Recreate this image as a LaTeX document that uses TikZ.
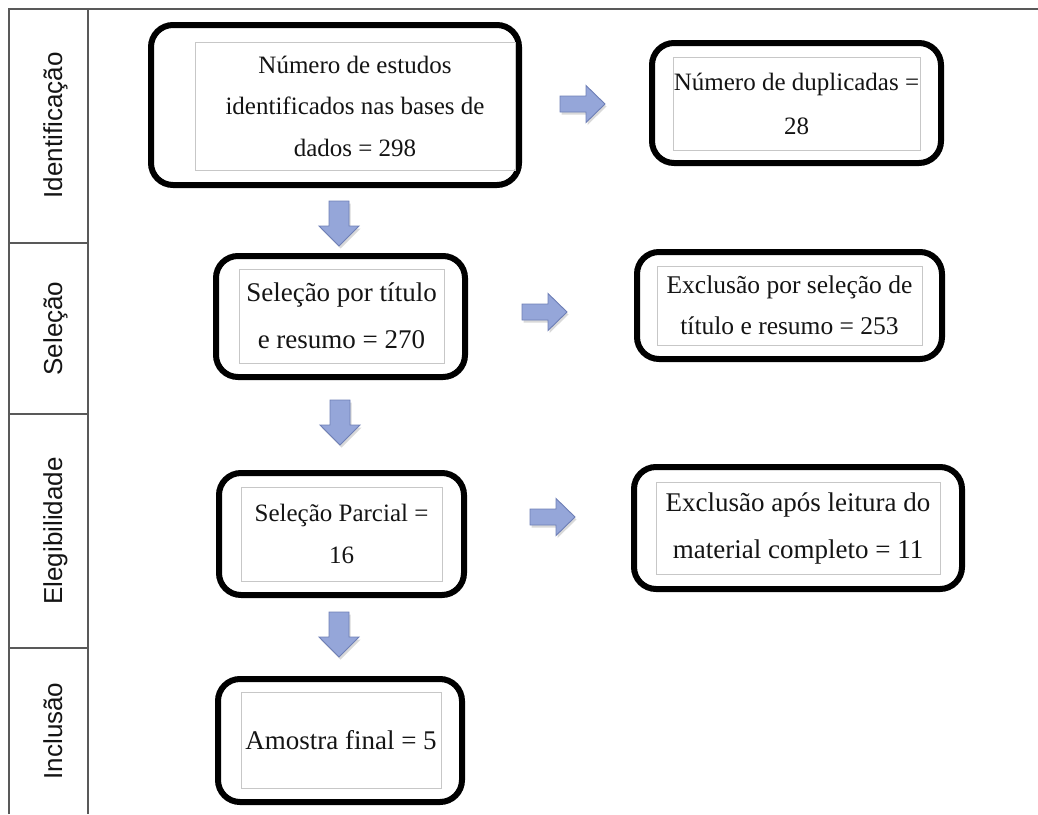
\documentclass[tikz,border=0pt]{standalone}
\usepackage{fontspec}
\setmainfont{Liberation Serif}
\setsansfont{Liberation Sans}
\usetikzlibrary{shadows}
\definecolor{arrfill}{HTML}{95A6D9}
\definecolor{arrdraw}{HTML}{6E7FB6}
\begin{document}
\begin{tikzpicture}[x=1pt,y=-1pt,
  frame/.style={draw=black, line width=6pt, rounded corners=22pt, inner sep=0pt},
  innerbox/.style={draw=black!22, line width=0.9pt, align=center, inner sep=0pt, text=black!92},
  arr/.style={fill=arrfill, draw=arrdraw, line width=0.9pt,
    drop shadow={shadow xshift=1.5pt, shadow yshift=-2.5pt, opacity=0.3}},
  gridline/.style={draw=black!65, line width=1.3pt},
  lab/.style={font=\sffamily\fontsize{26}{30}\selectfont, rotate=90, anchor=base, text=black!92},
  darr/.pic={\path[arr] (-10,0) -- (10,0) -- (10,25) -- (20,25) -- (0,45) -- (-20,25) -- (-10,25) -- cycle;},
  rarr/.pic={\path[arr] (0,-8) -- (26,-8) -- (26,-18.5) -- (45,0) -- (26,18.5) -- (26,8) -- (0,8) -- cycle;}
]
\useasboundingbox (0,0) rectangle (1038,814);

% left column grid
\coordinate (gtl) at (9,9);
\coordinate (gtr) at (1038,9);
\coordinate (gbl) at (9,814);
\coordinate (gcm) at (88,9);
\coordinate (gcb) at (88,814);
\draw[gridline] (gbl) -- (gtl) -- (gtr);
\draw[gridline] (gcm) -- (gcb);
\draw[gridline] (9,243) -- (88,243);
\draw[gridline] (9,414) -- (88,414);
\draw[gridline] (9,648) -- (88,648);

\node[lab] (l1) at (62,125.5) {Identificação};
\node[lab] (l2) at (62,328.5) {Seleção};
\node[lab] (l3) at (62,531) {Elegibilidade};
\node[lab] (l4) at (62,731) {Inclusão};

% outer frames
\node[frame, minimum width=368pt, minimum height=160pt] (o1) at (335,105) {};
\node[frame, minimum width=289pt, minimum height=120pt] (o2) at (796.5,103) {};
\node[frame, minimum width=249pt, minimum height=121pt] (o3) at (340.5,316.5) {};
\node[frame, minimum width=305pt, minimum height=107pt] (o4) at (789.5,305.5) {};
\node[frame, minimum width=245pt, minimum height=122pt] (o5) at (341.5,534) {};
\node[frame, minimum width=328pt, minimum height=122pt] (o6) at (798,528) {};
\node[frame, minimum width=244pt, minimum height=123pt] (o7) at (340,740.5) {};

% inner text boxes
\node[innerbox, minimum width=320pt, minimum height=128pt, font=\fontsize{25}{41.5}\selectfont] (b1) at (355,106)
  {Número de estudos\\identificados nas bases de\\dados = 298};
\node[innerbox, minimum width=247pt, minimum height=93pt, font=\fontsize{25}{44}\selectfont] (b2) at (796.5,103.5)
  {Número de duplicadas =\\28};
\node[innerbox, minimum width=205pt, minimum height=94pt, font=\fontsize{27}{47}\selectfont] (b3) at (341.5,316)
  {Seleção por título\\e resumo = 270};
\node[innerbox, minimum width=265pt, minimum height=79pt, font=\fontsize{25.5}{41}\selectfont] (b4) at (789.5,305.5)
  {Exclusão por seleção de\\título e resumo = 253};
\node[innerbox, minimum width=201pt, minimum height=94pt, font=\fontsize{25}{42}\selectfont] (b5) at (341.5,534)
  {Seleção Parcial =\\16};
\node[innerbox, minimum width=284pt, minimum height=92pt, font=\fontsize{27}{47}\selectfont] (b6) at (798,528)
  {Exclusão após leitura do\\material completo = 11};
\node[innerbox, minimum width=200pt, minimum height=96pt, font=\fontsize{27}{32}\selectfont] (b7) at (341,740)
  {Amostra final = 5};

% block arrows
\pic at (339,201) {darr};
\pic at (340,400) {darr};
\pic at (339,612) {darr};
\pic at (560,104) {rarr};
\pic at (522,312) {rarr};
\pic at (530,517) {rarr};
\end{tikzpicture}
\end{document}
